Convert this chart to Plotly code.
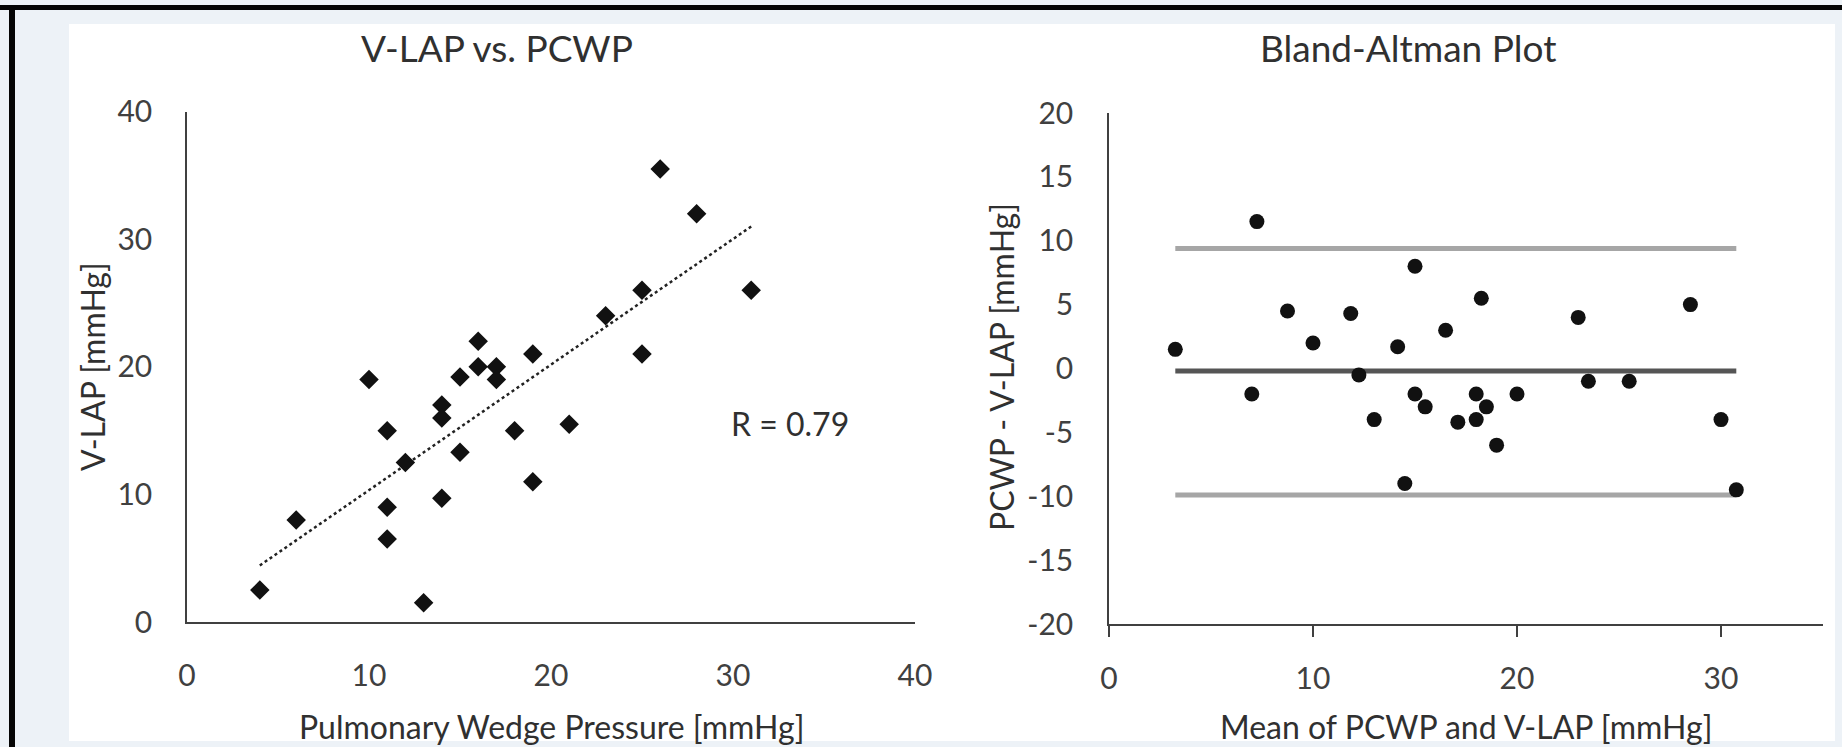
import numpy as np
import plotly.graph_objects as go

# ---- data ----
pcwp = [26, 28, 31, 25, 23, 25, 16, 19, 10, 15, 16, 17, 17, 14, 14, 11, 18, 21, 15, 12, 19, 14, 11, 6, 11, 4, 13]
vlap = [35.5, 32, 26, 26, 24, 21, 22, 21, 19, 19.2, 20, 20, 19, 17, 16, 15, 15, 15.5, 13.3, 12.5, 11, 9.7, 9, 8, 6.5, 2.5, 1.5]

ba_mean = [3.25, 7.25, 8.75, 10, 11.85, 12.25, 14.15, 15, 16.5, 18.25, 23, 28.5, 23.5, 25.5,
           7, 15, 15.5, 13, 17.1, 18, 18, 18.5, 19, 20, 14.5, 30, 30.75]
ba_diff = [1.5, 11.5, 4.5, 2, 4.3, -0.5, 1.7, 8, 3, 5.5, 4, 5, -1, -1,
           -2, -2, -3, -4, -4.2, -2, -4, -3, -6, -2, -9, -4, -9.5]

ba_levels = [9.4, -0.2, -9.9]          # upper LoA, mean difference, lower LoA
ba_level_colors = ["#a6a6a6", "#555555", "#a6a6a6"]

left_xticks = [0, 10, 20, 30, 40]
left_yticks = [0, 10, 20, 30, 40]
right_xticks = [0, 10, 20, 30]
right_yticks = [-20, -15, -10, -5, 0, 5, 10, 15, 20]
right_yticktext = ["-20", "-15", "-10", "-5", "0", "5", "10", "15", "20"]

r_text = "R = 0.79"

# ---- figure ----
W, H = 1842, 747
FONT = "Lato, 'Open Sans', sans-serif"
TXT = "#303030"
TICK = "#404040"

def px(x):
    return x / W

def py(y):
    return 1 - y / H

fig = go.Figure()

# trend line (linear least squares on the scatter data)
coef = np.polyfit(pcwp, vlap, 1)
tx = np.array([min(pcwp), max(pcwp)], dtype=float)
ty = np.polyval(coef, tx)
fig.add_trace(go.Scatter(x=tx, y=ty, mode="lines",
                         line=dict(color="#222222", width=2.5, dash="dot"),
                         xaxis="x", yaxis="y", hoverinfo="skip"))
fig.add_trace(go.Scatter(x=pcwp, y=vlap, mode="markers",
                         marker=dict(symbol="diamond", size=15, color="#111111"),
                         xaxis="x", yaxis="y"))

# Bland-Altman reference lines
xmin, xmax = min(ba_mean), max(ba_mean)
for lvl, col in zip(ba_levels, ba_level_colors):
    fig.add_trace(go.Scatter(x=[xmin, xmax], y=[lvl, lvl], mode="lines",
                             line=dict(color=col, width=5),
                             xaxis="x2", yaxis="y2", hoverinfo="skip"))
fig.add_trace(go.Scatter(x=ba_mean, y=ba_diff, mode="markers",
                         marker=dict(symbol="circle", size=15, color="#111111"),
                         xaxis="x2", yaxis="y2"))

axis_common = dict(showgrid=False, zeroline=False, showline=True, automargin=False,
                   linecolor=TICK, linewidth=1.5,
                   tickfont=dict(family=FONT, size=30, color=TICK))

fig.update_layout(
    width=W, height=H, autosize=False,
    margin=dict(l=0, r=0, t=0, b=0, pad=0, autoexpand=False),
    paper_bgcolor="#edf2f7", plot_bgcolor="rgba(0,0,0,0)",
    showlegend=False,
    font=dict(family=FONT, color=TXT),
    xaxis=dict(domain=[px(187), px(915)], range=[0, 40], tickvals=left_xticks,
               ticks="", ticklabelstandoff=26, anchor="y", **axis_common),
    yaxis=dict(domain=[py(622), py(111.7)], range=[0, 40], tickvals=left_yticks,
               ticks="", ticklabelstandoff=27, anchor="x", **axis_common),
    xaxis2=dict(domain=[px(1109), px(1823)], range=[0, 35], tickvals=right_xticks,
                ticks="outside", ticklen=11, tickwidth=1.5, tickcolor=TICK,
                ticklabelstandoff=16, anchor="y2", **axis_common),
    yaxis2=dict(domain=[py(624), py(113)], range=[-20, 20], tickvals=right_yticks,
                ticktext=right_yticktext,
                ticks="", ticklabelstandoff=28, anchor="x2", **axis_common),
)

# background decoration: white panel and dark frame
fig.add_shape(type="rect", xref="paper", yref="paper", layer="below",
              x0=px(69), x1=px(1835), y0=py(741), y1=py(24),
              fillcolor="white", line=dict(width=0))
fig.add_shape(type="rect", xref="paper", yref="paper", layer="below",
              x0=0, x1=1, y0=py(10), y1=py(5),
              fillcolor="#050505", line=dict(width=0))
fig.add_shape(type="rect", xref="paper", yref="paper", layer="below",
              x0=px(9), x1=px(15), y0=0, y1=py(5),
              fillcolor="#050505", line=dict(width=0))

def ann(text, x, y, size, angle=0):
    fig.add_annotation(text=text, xref="paper", yref="paper", x=px(x), y=py(y),
                       xanchor="center", yanchor="middle", showarrow=False,
                       textangle=angle, font=dict(family=FONT, size=size, color=TXT))

ann("V-LAP vs. PCWP", 497, 47, 37)
ann("Bland-Altman Plot", 1408, 47, 37)
ann("Pulmonary Wedge Pressure [mmHg]", 551, 726, 32)
ann("Mean of PCWP and V-LAP [mmHg]", 1466, 726, 32)
ann("V-LAP [mmHg]", 92, 367, 32, -90)
ann("PCWP - V-LAP [mmHg]", 1001, 367, 32, -90)
ann(r_text, 790, 423, 32)

fig.write_html("out.html")
